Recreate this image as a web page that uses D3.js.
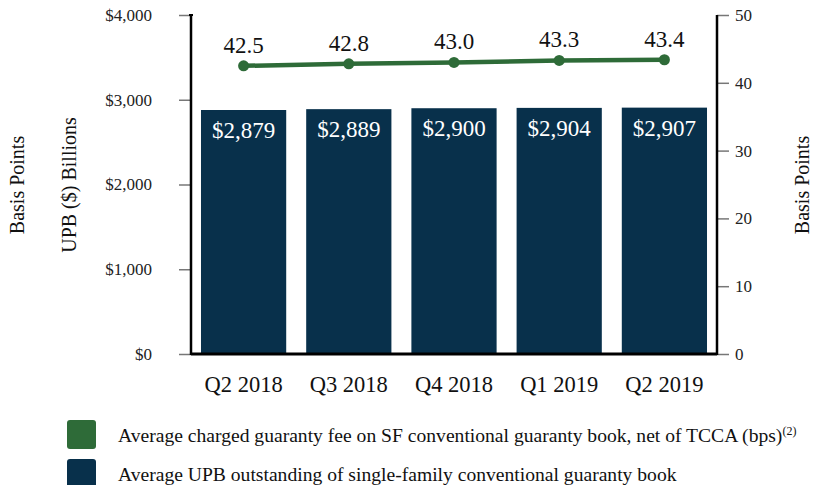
<!DOCTYPE html>
<html><head><meta charset="utf-8">
<script src="https://cdn.jsdelivr.net/npm/d3@7"></script>
<style>body{margin:0;background:#fff;} svg{display:block;} text{font-family:"Liberation Serif","DejaVu Serif",serif;}</style>
</head><body><svg id="c" width="819" height="485"></svg>
<script>
const categories = ["Q2 2018","Q3 2018","Q4 2018","Q1 2019","Q2 2019"];
const upbValues = [2879, 2889, 2900, 2904, 2907];
const feeValues = [42.5, 42.8, 43.0, 43.3, 43.4];
const leftTicks = [0, 1000, 2000, 3000, 4000];
const rightTicks = [0, 10, 20, 30, 40, 50];
const legendLabels = ["Average charged guaranty fee on SF conventional guaranty book, net of TCCA (bps)", "Average UPB outstanding of single-family conventional guaranty book"];

const svg = d3.select("#c");
const x0 = 191, x1 = 717, yTop = 15, yBot = 354;
const BAR = "#08304b", GREEN = "#2e6b38";
const x = d3.scaleBand().domain(categories).range([x0, x1]).paddingInner(0.19).paddingOuter(0.095);
const yL = d3.scaleLinear().domain([0, 4000]).range([yBot, yTop]);
const yR = d3.scaleLinear().domain([0, 50]).range([yBot, yTop]);

// bars
svg.selectAll("rect.bar").data(upbValues).join("rect")
  .attr("x", (d,i) => x(categories[i])).attr("width", x.bandwidth())
  .attr("y", d => yL(d)).attr("height", d => yBot - yL(d)).attr("fill", BAR);
svg.selectAll("text.bl").data(upbValues).join("text")
  .attr("x", (d,i) => x(categories[i]) + x.bandwidth()/2).attr("y", d => yL(d) + 28)
  .attr("text-anchor", "middle").attr("fill", "#fff").style("font-size", "23px")
  .text(d => "$" + d3.format(",")(d));

// axes
const gl = svg.append("g").attr("transform", `translate(${x0},0)`)
  .call(d3.axisLeft(yL).tickValues(leftTicks).tickSize(12).tickPadding(27).tickFormat(d => "$" + d3.format(",")(d)));
const gr = svg.append("g").attr("transform", `translate(${x1},0)`)
  .call(d3.axisRight(yR).tickValues(rightTicks).tickSize(12).tickPadding(6));
[gl, gr].forEach(g => {
  g.select(".domain").remove();
  g.selectAll(".tick line").attr("stroke", "#777").attr("stroke-width", 1.5);
  g.selectAll(".tick text").attr("fill", "#222").style("font-size", "17px").style("font-family", '"Liberation Serif",serif');
});
svg.append("line").attr("x1", x0).attr("x2", x0).attr("y1", yTop).attr("y2", yBot+1).attr("stroke", "#000").attr("stroke-width", 2.5);
svg.append("line").attr("x1", x1).attr("x2", x1).attr("y1", yTop).attr("y2", yBot+1).attr("stroke", "#000").attr("stroke-width", 2.5);
svg.append("line").attr("x1", x0).attr("x2", x1).attr("y1", yBot).attr("y2", yBot).attr("stroke", "#000").attr("stroke-width", 3);
svg.append("line").attr("x1", x0-2).attr("x2", x0+2).attr("y1", yTop).attr("y2", yTop).attr("stroke", "#000").attr("stroke-width", 2);

// x labels
svg.selectAll("text.xl").data(categories).join("text")
  .attr("x", d => x(d) + x.bandwidth()/2).attr("y", 392).attr("text-anchor", "middle")
  .attr("fill", "#111").style("font-size", "22.5px").text(d => d);

// line
const cx = i => x(categories[i]) + x.bandwidth()/2;
svg.append("path").datum(feeValues)
  .attr("d", d3.line().x((d,i) => cx(i)).y(d => yR(d)))
  .attr("fill", "none").attr("stroke", GREEN).attr("stroke-width", 4.5);
svg.selectAll("circle.pt").data(feeValues).join("circle")
  .attr("cx", (d,i) => cx(i)).attr("cy", d => yR(d)).attr("r", 5.5).attr("fill", GREEN);
svg.selectAll("text.pl").data(feeValues).join("text")
  .attr("x", (d,i) => cx(i)).attr("y", d => yR(d) - 13).attr("text-anchor", "middle")
  .attr("fill", "#111").style("font-size", "23px").text(d => d.toFixed(1));

// axis titles
svg.append("text").attr("transform", "translate(76,185) rotate(-90)").attr("text-anchor", "middle")
  .attr("fill", "#111").style("font-size", "20px").text("UPB ($) Billions");
svg.append("text").attr("transform", "translate(24,185) rotate(-90)").attr("text-anchor", "middle")
  .attr("fill", "#111").style("font-size", "20px").text("Basis Points");
svg.append("text").attr("transform", "translate(809,185) rotate(-90)").attr("text-anchor", "middle")
  .attr("fill", "#111").style("font-size", "20px").text("Basis Points");

// legend
const lg = svg.append("g");
[GREEN, BAR].forEach((c, i) => {
  const yy = 420 + i * 39;
  lg.append("rect").attr("x", 67).attr("y", yy).attr("width", 29).attr("height", 29).attr("rx", 3).attr("fill", c);
  const t = lg.append("text").attr("x", 118).attr("y", yy + 22).attr("fill", "#111").style("font-size", "19.6px").text(legendLabels[i]);
  if (i === 0) t.append("tspan").attr("dy", -7).style("font-size", "12px").text("(2)");
});
</script></body></html>
